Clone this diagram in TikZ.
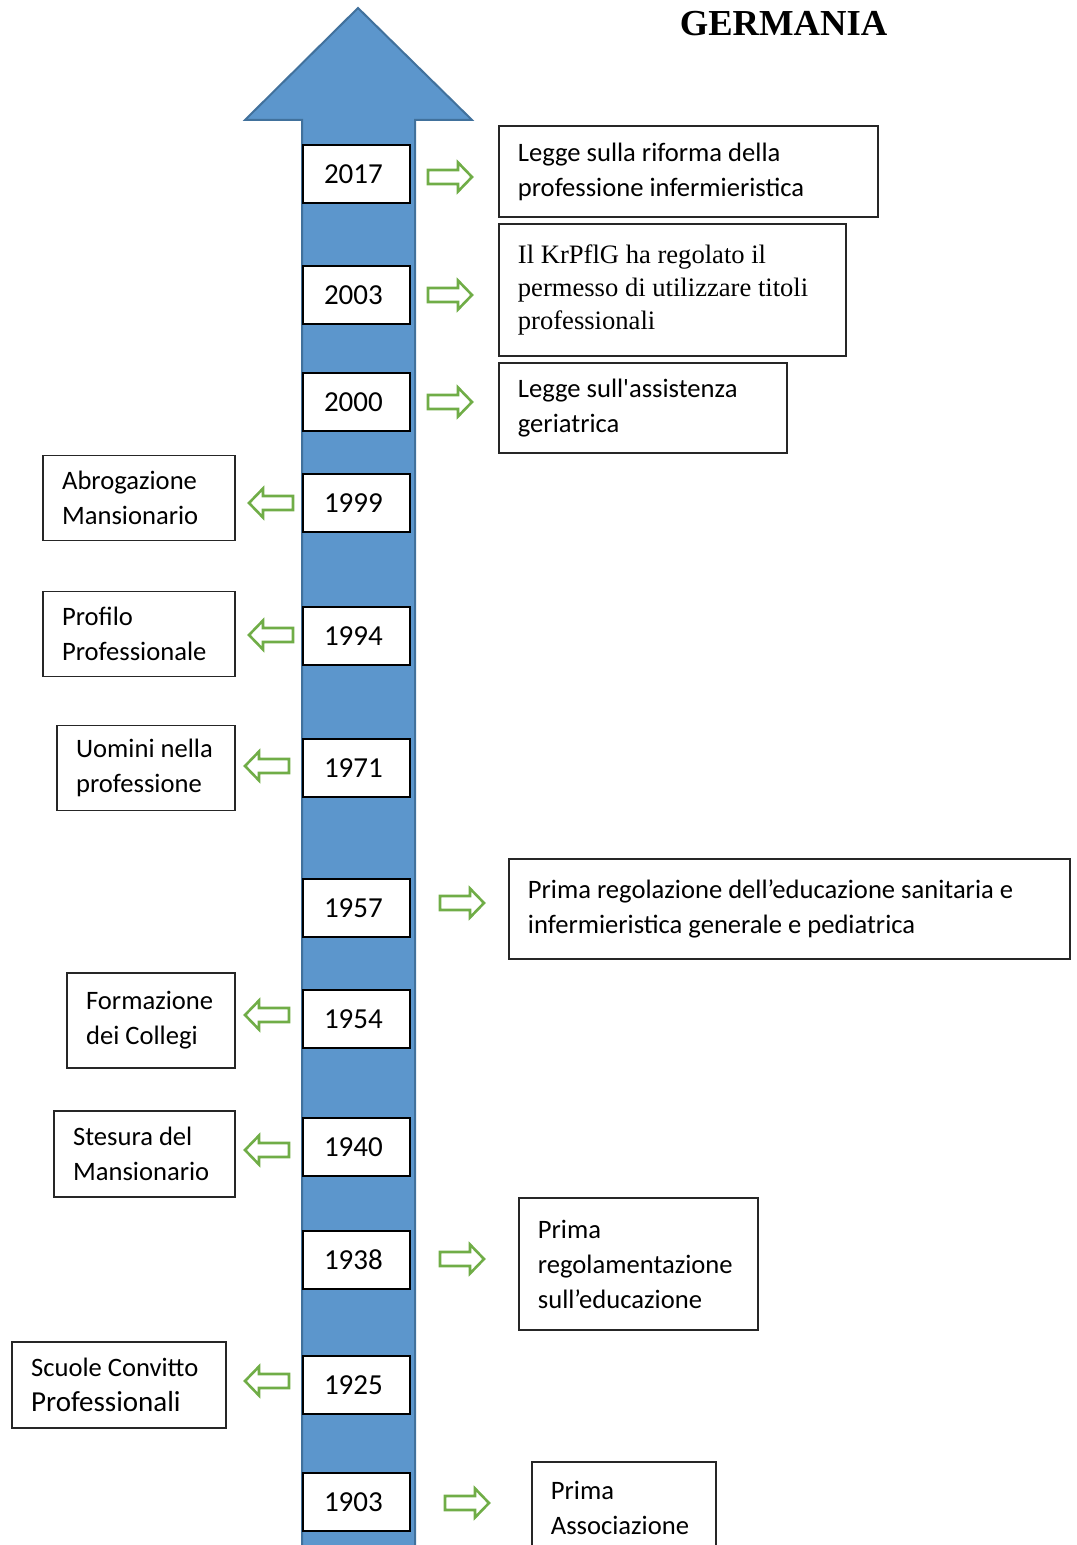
\documentclass[tikz,border=0pt]{standalone}
\usepackage{fontspec}
\setmainfont{Carlito}
\newfontfamily\timesfont{Liberation Serif}
\usepackage{tikz}
\hyphenpenalty=10000
\definecolor{arrowblue}{RGB}{92,150,204}
\definecolor{arrowedge}{RGB}{65,113,156}
\definecolor{leafgreen}{RGB}{112,173,71}
\tikzset{
	yearbox/.style={draw=black, line width=1pt, fill=white, text width=32.5pt, minimum height=29pt, inner xsep=10.5pt, inner ysep=0pt, align=flush left, font=\fontsize{14.5}{17}\selectfont},
	eventbox/.style 2 args={draw=black!85, line width=0.9pt, fill=white, text width=#1, minimum height=#2, inner xsep=9.5pt, inner ysep=0pt, align=flush left, font=\fontsize{13.3}{17.5}\selectfont},
	rarrow/.pic={\draw[leafgreen, line width=1.3pt, fill=white, line join=miter] (0,-7) -- (30,-7) -- (30,-14.5) -- (44,0) -- (30,14.5) -- (30,7) -- (0,7) -- cycle;}
}

\begin{document}
\begin{tikzpicture}[x=0.5pt,y=-0.5pt]
			\path[use as bounding box, clip] (0,0) rectangle (1076,1545);
			% timeline arrow
			\filldraw[fill=arrowblue, draw=arrowedge, line width=1pt] (302,1560) -- (302,120) -- (245,120) -- (358,8) -- (472,120) -- (415,120) -- (415,1560) -- cycle;
			\node[font=\timesfont\bfseries\fontsize{18.3}{22}\selectfont, anchor=base] (title) at (783.5,36) {GERMANIA};
			
			\foreach \yr/\yy in {2017/174,2003/295,2000/402,1999/503,1994/636,1971/768,1957/908,1954/1019,1940/1147,1938/1260,1925/1385,1903/1502}{
				\node[yearbox] (y\yr) at (356.5,\yy) {\yr};
			}
			
			% right side
			\node[eventbox={170.5pt}{45.5pt}, anchor=west] (e2017) at (498,171.5) {Legge sulla riforma della\\professione infermieristica};
			\node[eventbox={154.5pt}{66pt}, anchor=west, font=\timesfont\fontsize{13.3}{16.5}\selectfont] (e2003) at (498,290) {Il KrPflG ha regolato il\\permesso di utilizzare titoli\\professionali};
			\node[eventbox={125pt}{45pt}, anchor=west] (e2000) at (498,408) {Legge sull\textquotesingle assistenza\\geriatrica};
			\node[eventbox={261.5pt}{50pt}, anchor=west] (e1957) at (508,909) {Prima regolazione dell’educazione sanitaria e\\infermieristica generale e pediatrica};
			\node[eventbox={100.5pt}{66pt}, anchor=west] (e1938) at (518,1264) {Prima\\regolamentazione\\sull’educazione};
			\node[eventbox={73pt}{46pt}, anchor=west] (e1903) at (531,1508) {Prima\\Associazione};
			
			% left side
			\node[eventbox={77pt}{42.5pt}, anchor=east] (e1999) at (236,498) {Abrogazione\\Mansionario};
			\node[eventbox={77pt}{42.5pt}, anchor=east] (e1994) at (236,634) {Profilo\\Professionale};
			\node[eventbox={70pt}{42.5pt}, anchor=east] (e1971) at (236,768) {Uomini nella\\professione};
			\node[eventbox={65pt}{47.5pt}, anchor=east] (e1954) at (236,1020.5) {Formazione\\dei Collegi};
			\node[eventbox={71.5pt}{43pt}, anchor=east] (e1940) at (236,1154) {Stesura del\\Mansionario};
			\node[eventbox={88pt}{43pt}, anchor=east] (e1925) at (227,1385) {Scuole Convitto\\{\fontsize{14.5}{17.5}\selectfont Professionali}};
			
			% green arrows
			\foreach \xx/\yy in {428/177,428/295,428/402,440/903,440/1259,445/1503}{
				\pic at (\xx,\yy) {rarrow};
			}
			\foreach \xx/\yy in {293/503,293/635,289/766,289/1015,289/1150,289/1381}{
				\pic[xscale=-1] at (\xx,\yy) {rarrow};
			}
		\end{tikzpicture}
\end{document}
